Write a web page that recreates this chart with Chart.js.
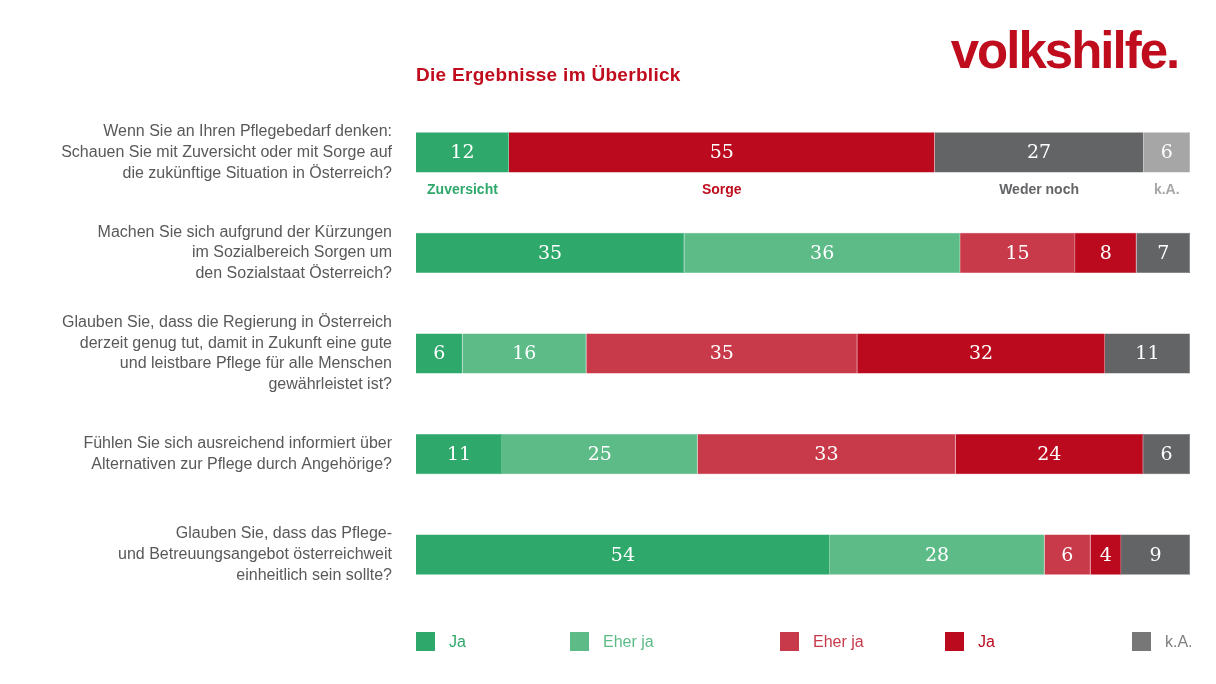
<!DOCTYPE html>
<html><head><meta charset="utf-8">
<script src="https://cdn.jsdelivr.net/npm/chart.js@4"></script>
<style>
body{margin:0;width:1216px;height:684px;background:#fff;font-family:"Liberation Sans",Arial,sans-serif;position:relative;overflow:hidden}
#c{position:absolute;left:0;top:0}
.t{position:absolute;left:416px;top:64px;color:#c00d1e;font-weight:bold;font-size:19px;letter-spacing:0.3px}
.logo{position:absolute;right:38px;top:20px;color:#c00d1e;font-weight:bold;font-size:52px;letter-spacing:-2px;transform:scaleX(0.98);transform-origin:right}
.lg{position:absolute;top:632px;font-size:16px;display:flex;align-items:center}
.lg i{display:inline-block;width:19px;height:19px;margin-right:14px}
</style></head><body>
<canvas id="c" width="1216" height="684"></canvas>
<div class="logo">volkshilfe.</div>
<div class="t">Die Ergebnisse im Überblick</div>
<div class="lg" style="left:416px;color:#2fa86b"><i style="background:#2fa86b"></i>Ja</div>
<div class="lg" style="left:570px;color:#5dbb88"><i style="background:#5dbb88"></i>Eher ja</div>
<div class="lg" style="left:780px;color:#c83a4a"><i style="background:#c83a4a"></i>Eher ja</div>
<div class="lg" style="left:945px;color:#bb0a1e"><i style="background:#bb0a1e"></i>Ja</div>
<div class="lg" style="left:1132px;color:#808080"><i style="background:#777"></i>k.A.</div>
<script>
const questions = [
 ["Wenn Sie an Ihren Pflegebedarf denken:","Schauen Sie mit Zuversicht oder mit Sorge auf","die zukünftige Situation in Österreich?"],
 ["Machen Sie sich aufgrund der Kürzungen","im Sozialbereich Sorgen um","den Sozialstaat Österreich?"],
 ["Glauben Sie, dass die Regierung in Österreich","derzeit genug tut, damit in Zukunft eine gute","und leistbare Pflege für alle Menschen","gewährleistet ist?"],
 ["Fühlen Sie sich ausreichend informiert über","Alternativen zur Pflege durch Angehörige?"],
 ["Glauben Sie, dass das Pflege-","und Betreuungsangebot österreichweit","einheitlich sein sollte?"]
];
const jaPos   = [12,35,6,11,54];
const eherJa  = [0,36,16,25,28];
const eherNein= [0,15,35,33,6];
const nein    = [55,8,32,24,4];
const ka      = [27,7,11,6,9];
const kaRow1  = [6,0,0,0,0];
const row1Labels = ["Zuversicht","Sorge","Weder noch","k.A."];

const series=[jaPos,eherJa,eherNein,nein,ka,kaRow1];
const colors=["#2fa86b","#5dbb88","#c83a4a","#bb0a1e","#636466","#a6a6a6"];
const sums=questions.map((_,i)=>series.reduce((a,s)=>a+s[i],0));
const ds=series.map((s,k)=>({data:s.map((v,i)=>v*100/sums[i]),raw:s,backgroundColor:colors[k],
  borderColor:colors[k],borderWidth:0.5,barPercentage:0.4,categoryPercentage:1}));

const labelsPlugin={id:'lbl',afterDatasetsDraw(ch){
 const c=ch.ctx;c.save();c.textAlign='center';c.textBaseline='middle';
 ch.data.datasets.forEach((d,k)=>{ch.getDatasetMeta(k).data.forEach((b,i)=>{
   const v=d.raw[i]; if(!v) return;
   const x=(b.x+b.base)/2;
   c.fillStyle='#fff';c.font='19px "DejaVu Serif",serif';c.fillText(v,x,b.y+1);
   if(i===0){
     const lc=['#2fa86b','#c00d1e','#636466','#a6a6a6'];
     const idx=k===0?0:k===3?1:k===4?2:3;
     c.font='bold 14px "Liberation Sans",Arial';c.fillStyle=lc[idx];
     c.fillText(row1Labels[idx],x,b.y+38);
   }
 });});c.restore();}};

new Chart(document.getElementById('c'),{type:'bar',
 data:{labels:questions,datasets:ds},
 options:{indexAxis:'y',responsive:false,animation:false,
  layout:{padding:{top:102,bottom:79,right:26,left:0}},
  plugins:{legend:{display:false},tooltip:{enabled:false}},
  scales:{
   x:{stacked:true,min:0,max:100,display:false},
   y:{stacked:true,grid:{display:false},border:{display:false},
      afterFit(a){a.width=416;},
      ticks:{padding:16,color:'#595959',font:{size:16,family:'"Liberation Sans",Arial',lineHeight:1.3}}}
  }},
 plugins:[labelsPlugin]});
</script>
</body></html>
